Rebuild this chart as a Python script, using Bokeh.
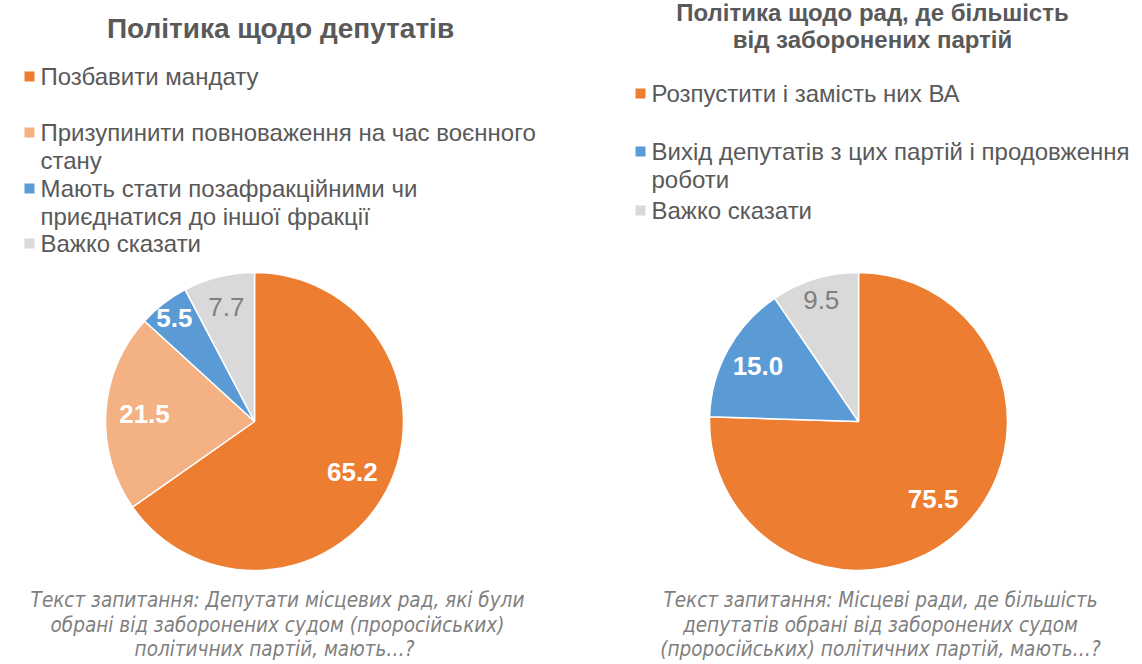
import math
from bokeh.plotting import figure
from bokeh.models import Range1d, ColumnDataSource
from bokeh.core.properties import value
from bokeh.embed import file_html
from bokeh.resources import INLINE

# ---------------- data ----------------
left_title = ["Політика щодо депутатів"]
left_labels = ["Позбавити мандату",
               "Призупинити повноваження на час воєнного\nстану",
               "Мають стати позафракційними чи\nприєднатися до іншої фракції",
               "Важко сказати"]
left_values = [65.2, 21.5, 5.5, 7.7]
left_caption = ["Текст запитання: Депутати місцевих рад, які були",
                "обрані від заборонених судом (проросійських)",
                "політичних  партій, мають…?"]

right_title = ["Політика щодо рад, де більшість", "від заборонених партій"]
right_labels = ["Розпустити і замість них ВА",
                "Вихід депутатів з цих партій і продовження\nроботи",
                "Важко сказати"]
right_values = [75.5, 15.0, 9.5]
right_caption = ["Текст запитання: Місцеві ради, де більшість",
                 "депутатів обрані від заборонених судом",
                 "(проросійських) політичних партій, мають…?"]

left_colors = ["#ED7D31", "#F4B183", "#5B9BD5", "#D9D9D9"]
right_colors = ["#ED7D31", "#5B9BD5", "#D9D9D9"]

FONT = "Liberation Sans"
CAP_FONT = "'DejaVu Sans Condensed', 'Liberation Sans Narrow', 'Liberation Sans'"
TXT = "#595959"

W, H = 1142, 664
p = figure(width=W, height=H, output_backend="svg", toolbar_location=None,
           x_range=Range1d(0, W), y_range=Range1d(0, H),
           min_border=0)
p.axis.visible = False
p.grid.visible = False
p.outline_line_color = None
p.background_fill_color = "white"
p.border_fill_color = "white"


def Y(ry):
    return H - ry


def draw_pie(cx, cy, r, values, colors, label_frac, label_colors, label_bold):
    total = sum(values)
    starts, ends, mids = [], [], []
    cum = 0.0
    for v in values:
        a0 = math.pi / 2 - 2 * math.pi * cum / total
        cum += v
        a1 = math.pi / 2 - 2 * math.pi * cum / total
        starts.append(a0)
        ends.append(a1)
        mids.append((a0 + a1) / 2)
    src = ColumnDataSource(dict(x=[cx] * len(values), y=[Y(cy)] * len(values),
                                start=starts, end=ends, color=colors))
    p.wedge(x="x", y="y", radius=r, start_angle="start", end_angle="end",
            direction="clock", fill_color="color", line_color="white",
            line_width=1.5, source=src)
    for v, m, f, c, b in zip(values, mids, label_frac, label_colors, label_bold):
        lx = cx + r * f * math.cos(m)
        ly = Y(cy) + r * f * math.sin(m)
        p.text(x=[lx], y=[ly], text=[f"{v:.1f}"], text_align="center",
               text_baseline="middle", text_font=value(FONT),
               text_font_size="26px", text_color=c,
               text_font_style="bold" if b else "normal")


def draw_legend(xs, ys, labels, colors, size="24px", lh=28):
    for yy, lab, col in zip(ys, labels, colors):
        p.scatter(x=[xs], y=[Y(yy)], marker="square", size=10,
                  fill_color=col, line_color=None)
        for i, line in enumerate(lab.split("\n")):
            p.text(x=[xs + 11], y=[Y(yy + i * lh)], text=[line],
                   text_align="left", text_baseline="middle",
                   text_font=value(FONT), text_font_size=size, text_color=TXT)


def draw_lines(cx, ys, lines, size, style, color, font=FONT):
    for yy, line in zip(ys, lines):
        p.text(x=[cx], y=[Y(yy)], text=[line], text_align="center",
               text_baseline="middle", text_font=value(font),
               text_font_size=size, text_color=color, text_font_style=style)


# titles
draw_lines(280, [28], left_title, "28px", "bold", TXT)
draw_lines(872, [12, 39], right_title, "24px", "bold", TXT)

# legends
draw_legend(29, [76, 132, 188, 243], left_labels, left_colors)
draw_legend(640, [93, 151, 210], right_labels, right_colors)

# pies
draw_pie(254, 421, 149, left_values, left_colors,
         [0.74, 0.74, 0.88, 0.79],
         ["white", "white", "white", "#7F7F7F"], [True, True, True, False])
draw_pie(858, 421, 149, right_values, right_colors,
         [0.72, 0.77, 0.85],
         ["white", "white", "#7F7F7F"], [True, True, False])

# captions
draw_lines(277, [599, 624, 648], left_caption, "20.5px", "italic", "#7F7F7F",
           font=CAP_FONT)
draw_lines(880, [599, 624, 648], right_caption, "20.5px", "italic", "#7F7F7F",
           font=CAP_FONT)

open("out.html", "w").write(file_html(p, INLINE))
